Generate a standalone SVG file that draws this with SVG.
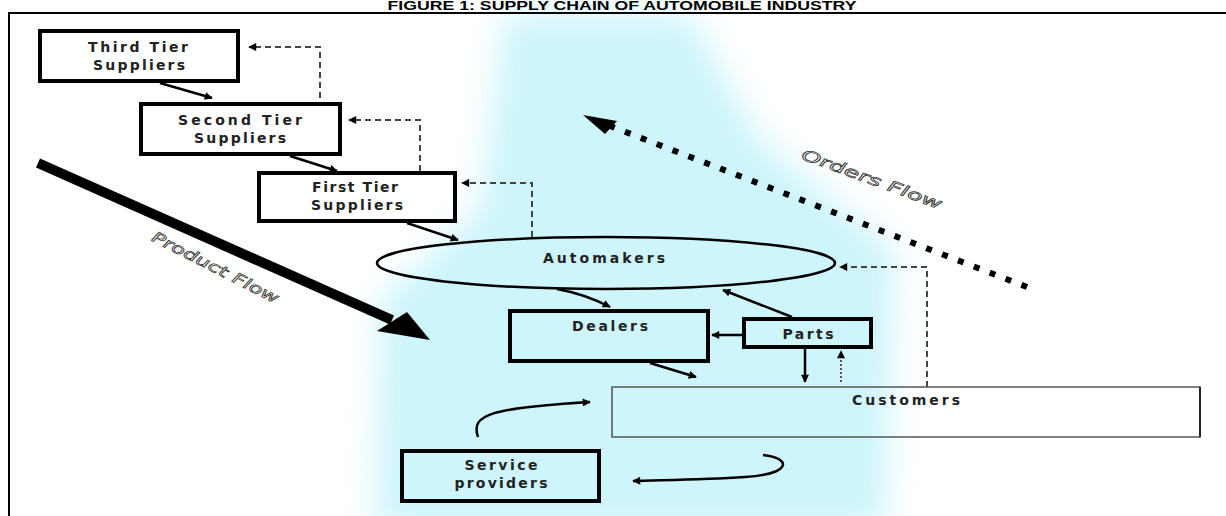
<svg xmlns="http://www.w3.org/2000/svg" width="1226" height="516" viewBox="0 0 1226 516">
<style>
.box{fill:none;stroke:#000;stroke-width:4}
.lbl{font-family:"DejaVu Sans",sans-serif;font-weight:bold;font-size:14px;fill:#222;text-anchor:middle}
.con{fill:none;stroke:#000;stroke-width:2.5}
.dash{fill:none;stroke:#444;stroke-width:2;stroke-dasharray:6 4}
.flow{font-family:"DejaVu Sans",sans-serif;font-style:italic;font-size:15px;fill:#f2f2f2;stroke:#333;stroke-width:0.7;text-anchor:middle}
</style>
<defs>
<marker id="ah" viewBox="0 0 10 10" refX="9" refY="5" markerWidth="10" markerHeight="8" markerUnits="userSpaceOnUse" orient="auto">
<path d="M0,0 L10,5 L0,10 z" fill="#000"/>
</marker>
<filter id="blur" x="-50%" y="-50%" width="200%" height="200%"><feGaussianBlur stdDeviation="16"/></filter>
</defs>
<rect width="1226" height="516" fill="#fff"/>
<polygon points="505,14 690,14 760,140 895,250 885,530 375,530 380,300 480,210" fill="#cdf5fb" filter="url(#blur)"/>
<text x="622" y="10" font-family="'Liberation Sans',sans-serif" font-weight="bold" font-size="12" text-anchor="middle" textLength="469" lengthAdjust="spacingAndGlyphs">FIGURE 1: SUPPLY CHAIN OF AUTOMOBILE INDUSTRY</text>
<path d="M9,516 V13 H1226" fill="none" stroke="#000" stroke-width="2"/>

<g id="connectors">
<line class="con" x1="160" y1="83" x2="212" y2="98" marker-end="url(#ah)"/>
<line class="con" x1="290" y1="156" x2="337" y2="171" marker-end="url(#ah)"/>
<line class="con" x1="407" y1="223" x2="458" y2="240" marker-end="url(#ah)"/>
<path class="con" d="M557,289 Q585,294 610,307" marker-end="url(#ah)"/>
<line class="con" stroke-width="1.5" x1="792" y1="317" x2="723" y2="290" marker-end="url(#ah)"/>
<line class="con" stroke-width="2" x1="742" y1="335" x2="712" y2="335" marker-end="url(#ah)"/>
<line class="con" x1="805" y1="349" x2="805" y2="382" marker-end="url(#ah)"/>
<line fill="none" stroke="#555" stroke-width="2" stroke-dasharray="2 2" x1="841" y1="382" x2="841" y2="351" marker-end="url(#ah)"/>
<line class="con" x1="650" y1="363" x2="696" y2="377" marker-end="url(#ah)"/>
<path class="dash" d="M320,98 V47 H249" marker-end="url(#ah)"/>
<path class="dash" d="M420,171 V120 H349" marker-end="url(#ah)"/>
<path class="dash" d="M532,237 V183 H462" marker-end="url(#ah)"/>
<path class="dash" d="M927,387 V267 H840" marker-end="url(#ah)"/>
<path class="con" stroke-width="2" d="M478,437 C470,414 492,408 590,402" marker-end="url(#ah)"/>
<path class="con" stroke-width="2" d="M763,455 C792,458 792,474 745,477 C700,480 660,480 633,481" marker-end="url(#ah)"/>
<path d="M38,163 L392,320" stroke="#000" stroke-width="10" fill="none"/>
<polygon points="430,340 377,331 407,312" fill="#000"/>
<line x1="1027" y1="287" x2="605" y2="124" stroke="#000" stroke-width="6" stroke-dasharray="6 11"/>
<polygon points="583,115 617,121 605,134" fill="#000"/>
</g>

<text class="flow" transform="translate(213,272) rotate(27)" textLength="140" lengthAdjust="spacingAndGlyphs">Product Flow</text>
<text class="flow" transform="translate(870,184) rotate(20)" textLength="148" lengthAdjust="spacingAndGlyphs">Orders Flow</text>

<g id="third">
<rect class="box" x="40" y="31" width="198" height="50"/>
<text class="lbl" x="138" y="52" textLength="100" lengthAdjust="spacing">Third Tier</text>
<text class="lbl" x="139" y="70" textLength="92" lengthAdjust="spacing">Suppliers</text>
</g>
<g id="second">
<rect class="box" x="141" y="104" width="199" height="50"/>
<text class="lbl" x="240" y="125" textLength="124" lengthAdjust="spacing">Second Tier</text>
<text class="lbl" x="240" y="143" textLength="92" lengthAdjust="spacing">Suppliers</text>
</g>
<g id="first">
<rect class="box" x="259" y="173" width="196" height="48"/>
<text class="lbl" x="355" y="192" textLength="86" lengthAdjust="spacing">First Tier</text>
<text class="lbl" x="357" y="210" textLength="92" lengthAdjust="spacing">Suppliers</text>
</g>
<g id="automakers">
<ellipse cx="606" cy="263" rx="229" ry="26" fill="none" stroke="#000" stroke-width="2.5"/>
<text class="lbl" x="604" y="263" textLength="122" lengthAdjust="spacing">Automakers</text>
</g>
<g id="dealers">
<rect class="box" x="510" y="311" width="198" height="50"/>
<text class="lbl" x="610" y="331" textLength="76" lengthAdjust="spacing">Dealers</text>
</g>
<g id="parts">
<rect class="box" x="744" y="319" width="127" height="28"/>
<text class="lbl" x="808" y="339" textLength="51" lengthAdjust="spacing">Parts</text>
</g>
<g id="customers">
<rect x="612" y="387" width="588" height="50" fill="none" stroke="#555" stroke-width="1.5"/>
<line x1="1200" y1="387" x2="1200" y2="437" stroke="#222" stroke-width="2"/>
<text class="lbl" x="906" y="405" textLength="108" lengthAdjust="spacing">Customers</text>
</g>
<g id="service">
<rect class="box" x="402" y="451" width="197" height="50"/>
<text class="lbl" x="501" y="470" textLength="73" lengthAdjust="spacing">Service</text>
<text class="lbl" x="501" y="488" textLength="93" lengthAdjust="spacing">providers</text>
</g>
</svg>
